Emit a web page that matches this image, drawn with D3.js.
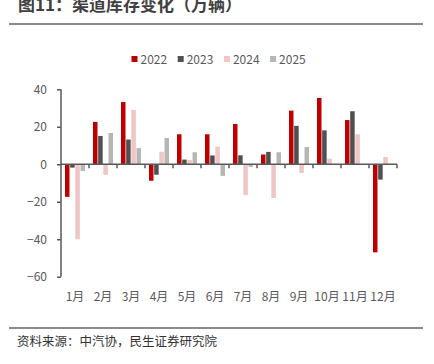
<!DOCTYPE html>
<html>
<head>
<meta charset="utf-8">
<script src="https://cdn.jsdelivr.net/npm/d3@7"></script>
<style>
  body { margin: 0; background: #fff; }
  svg { display: block; font-family: "Noto Sans CJK SC", "Noto Sans", sans-serif; }
</style>
</head>
<body>
<svg id="chart" width="434" height="364"></svg>
<script>
// data (万辆)
const months = ["1月", "2月", "3月", "4月", "5月", "6月", "7月", "8月", "9月", "10月", "11月", "12月"]
const seriesNames = ["2022", "2023", "2024", "2025"]
const colors = ["#C00000", "#505050", "#EFC5C5", "#B6B6B6"]
const v2022 = [-17.4, 22.6, 33.2, -8.8, 16.0, 16.0, 21.5, 5.2, 28.6, 35.4, 23.6, -47.0]
const v2023 = [-1.8, 15.1, 13.2, -5.6, 2.5, 4.7, 4.8, 6.6, 20.5, 18.1, 28.3, -8.2]
const v2024 = [-40.0, -5.6, 29.0, 6.7, 2.3, 9.4, -16.5, -18.0, -4.6, 3.0, 16.0, 3.9]
const v2025 = [-3.6, 16.7, 8.6, 14.0, 6.4, -6.2, -1.4, 6.4, 9.2, null, null, null]
const yTicks = [40, 20, 0, -20, -40, -60]

const allSeries = [v2022, v2023, v2024, v2025]

const svg = d3.select("#chart")
const axisColor = "#595959"
const textColor = "#595959"

// title + rules
svg.append("text")
  .attr("x", 18).attr("y", 11)
  .attr("font-size", 17).attr("font-weight", "bold")
  .attr("fill", "#404040")
  .text("图11：渠道库存变化（万辆）")

svg.append("line")
  .attr("x1", 9).attr("x2", 423).attr("y1", 24).attr("y2", 24)
  .attr("stroke", "#666").attr("stroke-width", 1.5)

svg.append("line")
  .attr("x1", 9).attr("x2", 423).attr("y1", 328).attr("y2", 328)
  .attr("stroke", "#666").attr("stroke-width", 1.5)

svg.append("text")
  .attr("x", 17).attr("y", 346)
  .attr("font-size", 12.5).attr("fill", "#333")
  .text("资料来源：中汽协，民生证券研究院")

// scales
const x = d3.scaleBand().domain(months).range([61, 397])
const xs = d3.scaleBand().domain(seriesNames).range([4, 24]).paddingInner(0.13)
const y = d3.scaleLinear().domain([-60, 40]).range([276.7, 89.3])

// legend
const legend = svg.append("g").selectAll("g")
  .data(seriesNames)
  .join("g")
  .attr("transform", (d, i) => `translate(${131.5 + i * 46.2},0)`)

legend.append("rect")
  .attr("x", 0).attr("y", 56).attr("width", 6).attr("height", 6)
  .attr("fill", (d, i) => colors[i])

legend.append("text")
  .attr("x", 9).attr("y", 63.5)
  .attr("font-size", 12).attr("fill", textColor)
  .text(d => d)

// bars
const bars = svg.append("g")
seriesNames.forEach((name, si) => {
  const data = allSeries[si].map((v, i) => ({month: months[i], v}))
    .filter(d => d.v !== null)
  bars.selectAll("rect.s" + si)
    .data(data)
    .join("rect")
    .attr("class", "s" + si)
    .attr("x", d => x(d.month) + xs(name))
    .attr("width", xs.bandwidth())
    .attr("y", d => y(Math.max(0, d.v)))
    .attr("height", d => Math.abs(y(d.v) - y(0)))
    .attr("fill", colors[si])
})

// y axis
const yAxis = svg.append("g")
  .attr("transform", "translate(61,0)")
  .call(d3.axisLeft(y).tickValues(yTicks).tickSize(4).tickPadding(10))
yAxis.select(".domain").attr("stroke", axisColor).attr("stroke-width", 1.5)
  .attr("d", `M0,${y(40)}V${y(-60)}`)
yAxis.selectAll(".tick line").attr("stroke", axisColor).attr("stroke-width", 1.5)
yAxis.selectAll(".tick text")
  .attr("font-size", 12).attr("fill", textColor)
  .attr("font-family", "'Noto Sans CJK SC', sans-serif")

// zero line with category ticks
const zero = svg.append("g")
zero.append("line")
  .attr("x1", 61).attr("x2", 397).attr("y1", y(0)).attr("y2", y(0))
  .attr("stroke", axisColor).attr("stroke-width", 1.5)
zero.selectAll("line.ct")
  .data(months)
  .join("line")
  .attr("class", "ct")
  .attr("x1", d => x(d) + x.bandwidth()).attr("x2", d => x(d) + x.bandwidth())
  .attr("y1", y(0)).attr("y2", y(0) + 4)
  .attr("stroke", axisColor).attr("stroke-width", 1.5)

// month labels along the bottom
svg.append("g").selectAll("text")
  .data(months)
  .join("text")
  .attr("x", d => x(d) + x.bandwidth() / 2)
  .attr("y", 301)
  .attr("text-anchor", "middle")
  .attr("font-size", 12).attr("fill", textColor)
  .text(d => d)
</script>
</body>
</html>
